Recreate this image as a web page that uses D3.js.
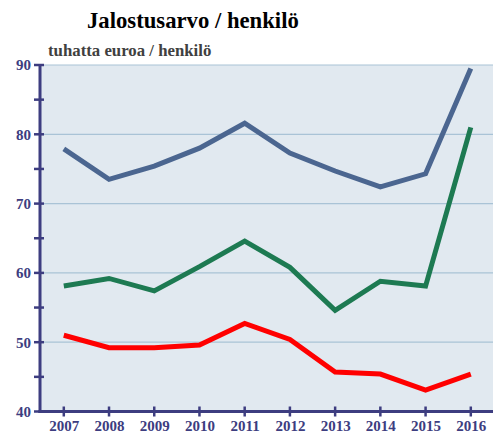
<!DOCTYPE html>
<html><head><meta charset="utf-8">
<script src="https://cdn.jsdelivr.net/npm/d3@7"></script>
<style>body{margin:0;background:#fff}svg{display:block}</style>
</head><body>
<svg id="c" width="496" height="433"></svg>
<script>
const years = [2007,2008,2009,2010,2011,2012,2013,2014,2015,2016];
const seriesBlue  = [77.9,73.5,75.4,78.0,81.6,77.3,74.7,72.4,74.3,89.5];
const seriesGreen = [58.1,59.2,57.4,60.9,64.6,60.8,54.6,58.8,58.1,81.0];
const seriesRed   = [51.0,49.2,49.2,49.6,52.7,50.4,45.7,45.4,43.1,45.4];
const yTicks = [40,50,60,70,80,90];
const yMinor = [45,55,65,75,85];
const title = "Jalostusarvo / henkilö";
const subtitle = "tuhatta euroa / henkilö";

const svg = d3.select("#c");
const L = 40, R = 493, T = 65, B = 411.5;
const axisColor = "#3d3d80";
const x = d3.scaleLinear().domain([2007,2016]).range([63.8,470.8]);
const y = d3.scaleLinear().domain([40,90]).range([B,T]);

svg.append("rect").attr("x",L).attr("y",T).attr("width",R-L).attr("height",B-T).attr("fill","#e1e9f0");

svg.append("g").selectAll("line").data(yTicks.slice(1)).join("line")
  .attr("x1",L).attr("x2",R).attr("y1",d=>y(d)).attr("y2",d=>y(d))
  .attr("stroke","#a9c3d6").attr("stroke-width",1.2);

const line = d3.line().x((d,i)=>x(years[i])).y(d=>y(d));
[[seriesBlue,"#4b6690"],[seriesGreen,"#1d7a52"],[seriesRed,"#ff0000"]].forEach(([s,c])=>{
  svg.append("path").datum(s).attr("d",line).attr("fill","none")
    .attr("stroke",c).attr("stroke-width",5).attr("stroke-linejoin","miter");
});

const font = "'Liberation Serif','Times New Roman',serif";
const yAxis = svg.append("g").attr("transform",`translate(${L},0)`)
  .call(d3.axisLeft(y).tickValues(yTicks).tickSize(0).tickPadding(9).tickFormat(d3.format("d")));
yAxis.select(".domain").remove();
yAxis.selectAll("text").attr("font-family",font).attr("font-weight","bold").attr("font-size",15).attr("fill","#3d3d80");
svg.append("g").selectAll("line").data(yTicks.concat(yMinor)).join("line")
  .attr("x1",L-6).attr("x2",L+4).attr("y1",d=>y(d)).attr("y2",d=>y(d))
  .attr("stroke",axisColor).attr("stroke-width",2.5);

const xAxis = svg.append("g").attr("transform",`translate(0,${B})`)
  .call(d3.axisBottom(x).tickValues(years).tickSize(0).tickPadding(9).tickFormat(d3.format("d")));
xAxis.select(".domain").remove();
xAxis.selectAll("text").attr("font-family",font).attr("font-weight","bold").attr("font-size",15).attr("fill","#3d3d80");
svg.append("g").selectAll("line").data(years).join("line")
  .attr("x1",d=>x(d)).attr("x2",d=>x(d)).attr("y1",B-5).attr("y2",B+5)
  .attr("stroke",axisColor).attr("stroke-width",2.5);

svg.append("line").attr("x1",L).attr("x2",L).attr("y1",T-1).attr("y2",B+1.5).attr("stroke",axisColor).attr("stroke-width",3);
svg.append("line").attr("x1",L-1.5).attr("x2",R).attr("y1",B).attr("y2",B).attr("stroke",axisColor).attr("stroke-width",3);

svg.append("text").attr("x",87).attr("y",27.5).attr("font-family",font).attr("font-weight","bold")
  .attr("font-size",22.7).attr("fill","#000").text(title);
svg.append("text").attr("x",48).attr("y",55.5).attr("font-family",font).attr("font-weight","bold")
  .attr("font-size",16.8).attr("fill","#404040").text(subtitle);
</script>
</body></html>
